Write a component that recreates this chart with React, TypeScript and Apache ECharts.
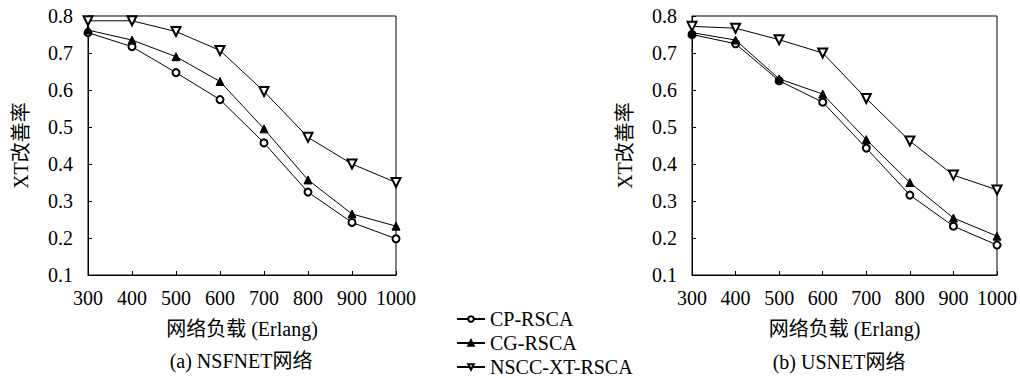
import React, { useEffect, useRef } from "react";
import * as echarts from "echarts";

const loads = [300, 400, 500, 600, 700, 800, 900, 1000];
const yTicks = [0.1, 0.2, 0.3, 0.4, 0.5, 0.6, 0.7, 0.8];

const nsfCP = [0.755, 0.717, 0.647, 0.574, 0.457, 0.324, 0.242, 0.198];
const nsfCG = [0.762, 0.735, 0.690, 0.623, 0.495, 0.357, 0.265, 0.232];
const nsfNSCC = [0.787, 0.787, 0.758, 0.707, 0.596, 0.472, 0.400, 0.350];

const usCP = [0.750, 0.725, 0.625, 0.567, 0.443, 0.316, 0.232, 0.181];
const usCG = [0.755, 0.735, 0.630, 0.589, 0.466, 0.350, 0.254, 0.205];
const usNSCC = [0.772, 0.767, 0.736, 0.700, 0.577, 0.462, 0.370, 0.330];

const seriesNames = ["CP-RSCA", "CG-RSCA", "NSCC-XT-RSCA"];
const subtitles = ["(a) NSFNET网络", "(b) USNET网络"];
const xName = "网络负载 (Erlang)";
const yName = "XT改善率";

const FONT = "Liberation Serif, Noto Sans CJK SC, serif";

export default function App() {
  const ref = useRef<HTMLDivElement>(null);
  useEffect(() => {
    if (!ref.current) return;
    const chart = echarts.init(ref.current, undefined, { renderer: "svg" });
    const grids = [
      { left: 88, top: 16, width: 308, height: 259 },
      { left: 692, top: 16, width: 309, height: 259 },
    ];
    const rich = { t: { fontFamily: FONT, fontSize: 20, color: "#000" } };
    const mkX = (i: number) => ({
      type: "value",
      gridIndex: i,
      min: 300,
      max: 1000,
      interval: 100,
      name: "{t|" + xName + "}",
      nameLocation: "middle",
      nameGap: 44,
      nameTextStyle: { fontFamily: FONT, fontSize: 20, color: "#000", rich },
      axisLine: { show: true, lineStyle: { color: "#000", width: 1 } },
      axisTick: { show: true, inside: true, length: 4, lineStyle: { color: "#000" } },
      axisLabel: {
        fontFamily: FONT,
        fontSize: 20,
        color: "#000",
        margin: 13,
        rich,
        formatter: (v: number) => "{t|" + String(Math.round(v)) + "}",
      },
      splitLine: { show: false },
    });
    const mkY = (i: number) => ({
      type: "value",
      gridIndex: i,
      min: 0.1,
      max: 0.8,
      interval: 0.1,
      name: "{t|" + yName + "}",
      nameLocation: "middle",
      nameGap: 57,
      nameTextStyle: { fontFamily: FONT, fontSize: 20, color: "#000", rich },
      axisLine: { show: true, lineStyle: { color: "#000", width: 1 } },
      axisTick: { show: true, inside: true, length: 4, lineStyle: { color: "#000" } },
      axisLabel: {
        fontFamily: FONT,
        fontSize: 20,
        color: "#000",
        margin: 15,
        rich,
        formatter: (v: number) => {
          const r = Math.round(v * 10) / 10;
          return yTicks.some((t) => Math.abs(t - r) < 1e-9) ? "{t|" + r.toFixed(1) + "}" : "";
        },
      },
      splitLine: { show: false },
    });
    const styles = [
      { symbol: "emptyCircle", symbolSize: 7, symbolRotate: 0 },
      { symbol: "triangle", symbolSize: 8, symbolRotate: 0 },
      { symbol: "emptyTriangle", symbolSize: 9, symbolRotate: 180 },
    ];
    const dataSets = [
      [nsfCP, nsfCG, nsfNSCC],
      [usCP, usCG, usNSCC],
    ];
    const series: any[] = [];
    dataSets.forEach((sets, gi) => {
      sets.forEach((vals, si) => {
        series.push({
          type: "line",
          name: seriesNames[si],
          xAxisIndex: gi,
          yAxisIndex: gi,
          data: loads.map((x, k) => [x, vals[k]]),
          symbol: styles[si].symbol,
          symbolSize: styles[si].symbolSize,
          symbolRotate: styles[si].symbolRotate,
          color: "#000",
          itemStyle: { color: "#000", borderColor: "#000", borderWidth: 1 },
          lineStyle: { color: "#000", width: 1 },
          z: 3 + si,
        });
      });
    });
    chart.setOption({
      animation: false,
      backgroundColor: "#fff",
      textStyle: { fontFamily: FONT, color: "#000" },
      grid: grids.map((g) => ({
        ...g,
        show: true,
        borderColor: "#000",
        borderWidth: 1,
        backgroundColor: "transparent",
        containLabel: false,
      })),
      xAxis: [mkX(0), mkX(1)],
      yAxis: [mkY(0), mkY(1)],
      legend: {
        data: seriesNames,
        orient: "vertical",
        left: 456,
        top: 309,
        height: 69,
        padding: 0,
        itemWidth: 28,
        itemHeight: 7,
        itemGap: 4,
        textStyle: { fontFamily: FONT, fontSize: 20, color: "#000", lineHeight: 20 },
      },
      graphic: [
        {
          type: "text",
          x: 241,
          y: 361,
          style: {
            text: subtitles[0],
            font: "20px Liberation Serif, Noto Sans CJK SC, serif",
            fill: "#000",
            align: "center",
            verticalAlign: "middle",
          },
        },
        {
          type: "text",
          x: 839,
          y: 362,
          style: {
            text: subtitles[1],
            font: "20px Liberation Serif, Noto Sans CJK SC, serif",
            fill: "#000",
            align: "center",
            verticalAlign: "middle",
          },
        },
      ],
      series,
    });
    return () => chart.dispose();
  }, []);
  return (
    <div
      ref={ref}
      style={{ position: "fixed", left: 0, top: 0, width: 1020, height: 378, background: "#fff" }}
    />
  );
}
